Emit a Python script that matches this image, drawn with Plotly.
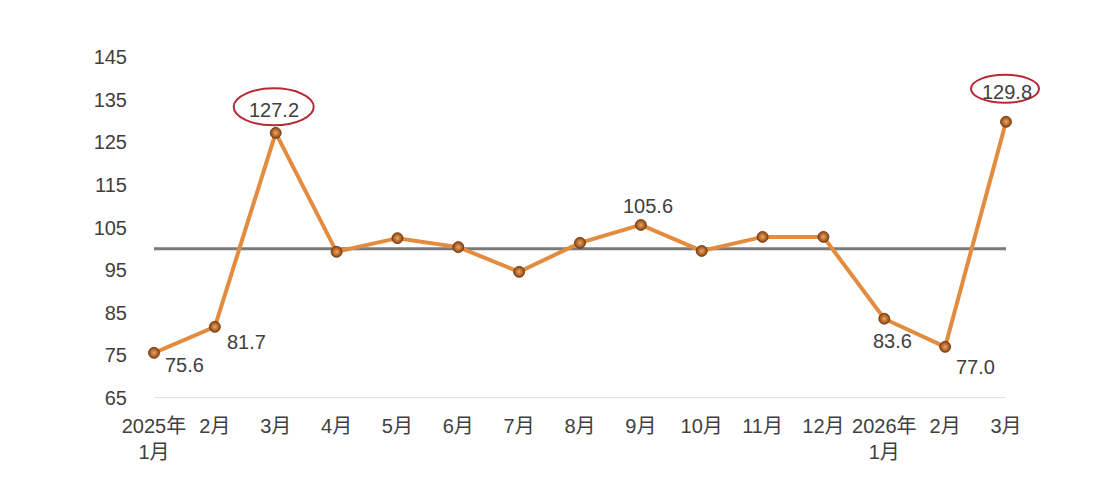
import plotly.graph_objects as go

categories = ["2025年<br>1月", "2月", "3月", "4月", "5月", "6月", "7月", "8月", "9月",
              "10月", "11月", "12月", "2026年<br>1月", "2月", "3月"]
values = [75.6, 81.7, 127.2, 99.3, 102.5, 100.4, 94.6, 101.4, 105.6,
          99.5, 102.8, 102.8, 83.6, 77.0, 129.8]
y_ticks = [65, 75, 85, 95, 105, 115, 125, 135, 145]
baseline = 100
Y_MIN, Y_MAX = 65, 145

# labelled points: index -> text
labels = {0: "75.6", 1: "81.7", 2: "127.2", 8: "105.6", 12: "83.6", 13: "77.0", 14: "129.8"}
# pixel offsets (dx, dy down-positive) of label centres from their points
label_off = {0: (30, 12), 1: (32, 15), 2: (-2, -23), 8: (7, -19), 12: (8, 22), 13: (30, 20), 14: (1, -30)}
# circled labels: index -> (dx, dy, w, h) of ellipse in pixels
ellipses = {2: (-2, -26, 80, 37), 14: (-1, -33, 68, 28)}

FONT = "Liberation Sans, Noto Sans CJK SC, sans-serif"
TXT = "#404040"
xs = list(range(len(categories)))

fig = go.Figure()
fig.add_trace(go.Scatter(
    x=xs, y=values, mode="lines+markers", cliponaxis=False,
    line=dict(color="#E38B3E", width=4),
    marker=dict(size=11, color="#8A4210",
                gradient=dict(type="radial", color="#F0A860"),
                line=dict(color="#6B330B", width=0.8)),
    hoverinfo="skip", showlegend=False))

# baseline at 100
fig.add_shape(type="line", xref="x", yref="y", x0=xs[0], x1=xs[-1],
              y0=baseline, y1=baseline, line=dict(color="#7A7A7A", width=3),
              layer="below")
# bottom axis line at 65
fig.add_shape(type="line", xref="x", yref="y", x0=xs[0], x1=xs[-1], y0=Y_MIN, y1=Y_MIN,
              line=dict(color="#D9D9D9", width=1.5), layer="below")

for i, txt in labels.items():
    dx, dy = label_off[i]
    fig.add_annotation(x=xs[i], y=values[i], text=txt, showarrow=False,
                       xshift=dx, yshift=-dy, font=dict(size=20, color=TXT, family=FONT))

n = len(xs) - 1
for i, (dx, dy, w, h) in ellipses.items():
    px = (xs[i] - xs[0]) / n
    py = (values[i] - Y_MIN) / (Y_MAX - Y_MIN)
    fig.add_shape(type="circle", xref="paper", yref="paper",
                  xsizemode="pixel", ysizemode="pixel", xanchor=px, yanchor=py,
                  x0=dx - w / 2, x1=dx + w / 2, y0=-dy - h / 2, y1=-dy + h / 2,
                  line=dict(color="#B52A35", width=2))

fig.update_layout(
    width=1100, height=494,
    paper_bgcolor="white", plot_bgcolor="white",
    margin=dict(l=146, r=102, t=49, b=104),
    font=dict(family=FONT, size=20, color=TXT),
    xaxis=dict(range=[xs[0], xs[-1]], tickmode="array", tickvals=xs, ticktext=categories,
               showgrid=False, zeroline=False, showline=False, ticks="", automargin=False,
               ticklabelstandoff=14,
               tickfont=dict(size=20, color=TXT), fixedrange=True),
    yaxis=dict(range=[Y_MIN, Y_MAX], tickmode="array", tickvals=y_ticks,
               showgrid=False, zeroline=False, showline=False, ticks="", automargin=False,
               ticklabelstandoff=26,
               tickfont=dict(size=20, color=TXT), fixedrange=True),
)

fig.write_html("out.html")
